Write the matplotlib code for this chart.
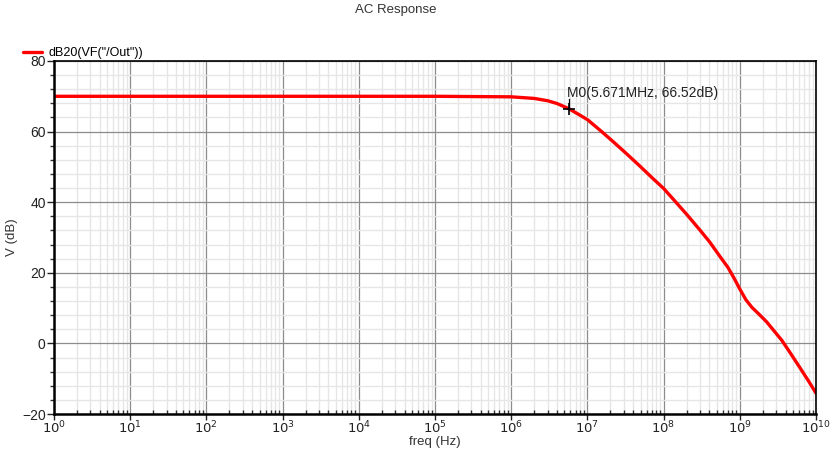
import numpy as np
import matplotlib
matplotlib.use("Agg")
from matplotlib import pyplot as plt
from matplotlib.ticker import MultipleLocator, NullFormatter

plt.rcParams['font.family'] = ['Liberation Sans', 'DejaVu Sans']

# AC sweep of dB20(VF("/Out")), values read at the plotted points
freq_hz = [1, 1e5, 1e6, 2e6, 3e6, 4e6, 5.671e6, 7.5e6, 1e7, 1.5e7, 2.19e7,
           3.2e7, 4.9e7, 7e7, 1e8, 1.41e8, 2e8, 3e8, 4e8, 5.5e8, 7e8,
           8.5e8, 1e9, 1.2e9, 1.43e9, 1.8e9, 2.25e9, 2.8e9, 3.55e9, 4.5e9,
           6.2e9, 8e9, 1e10]
gain_db = [70.0, 70.0, 69.85, 69.4, 68.75, 67.95, 66.52, 65.0, 63.4, 60.2, 57.1,
           53.9, 50.2, 47.0, 43.9, 40.3, 36.6, 32.1, 28.8, 24.6, 21.5,
           18.3, 15.4, 12.4, 10.3, 8.2, 6.1, 3.6, 0.9, -2.4,
           -7.0, -10.7, -14.1]

decades = list(range(0, 11))

marker_f = 5.671e6
marker_db = 66.52
marker_label = "M0(5.671MHz, 66.52dB)"
trace_name = 'dB20(VF("/Out"))'

fig = plt.figure(figsize=(8.36, 4.5), dpi=100)
ax = fig.add_axes([54 / 836, 1 - 414 / 450, 762 / 836, 353 / 450])

ax.semilogx(freq_hz, gain_db, color='#ff0000', lw=2.4, label=trace_name,
            solid_joinstyle='round', solid_capstyle='round', zorder=4)

ax.set_xlim(1, 1e10)
ax.set_ylim(-20, 80)

major_x = [10.0 ** k for k in decades]
minor_x = [m * 10.0 ** k for k in decades[:-1] for m in range(2, 10)]
ax.set_xticks(major_x)
ax.set_xticklabels([r'$10^{%d}$' % k for k in decades])
ax.set_xticks(minor_x, minor=True)
ax.xaxis.set_minor_formatter(NullFormatter())
ax.yaxis.set_major_locator(MultipleLocator(20))
ax.yaxis.set_minor_locator(MultipleLocator(4))

ax.grid(which='major', color='#8c8c8c', lw=0.9, zorder=1)
ax.grid(which='minor', color='#e6e6e6', lw=1.0, zorder=0)

ax.tick_params(axis='x', which='major', direction='out', length=4, width=1,
               labelsize=9.5, colors='#222222', pad=0)
ax.tick_params(axis='x', which='minor', direction='in', length=3, width=1,
               colors='#333333')
ax.tick_params(axis='y', which='major', direction='out', length=5, width=1,
               labelsize=10, colors='#222222', pad=1)
ax.tick_params(axis='y', which='minor', direction='out', length=3, width=1,
               colors='#333333')

for side in ('left', 'bottom'):
    ax.spines[side].set_linewidth(1.8)
for side in ('top', 'right'):
    ax.spines[side].set_linewidth(1.2)
for sp in ax.spines.values():
    sp.set_color('black')
    sp.set_zorder(5)

ax.set_ylabel('V (dB)', fontsize=9.5, color='#333333', labelpad=3)
fig.text(435 / 836, 1 - 442 / 450, 'freq (Hz)', ha='center', va='center',
         fontsize=9.5, color='#333333')

# marker M0: cross, short stem and readout text
ax.plot([marker_f], [marker_db], marker='+', ms=8, mew=1.2, color='black', zorder=6)
ax.plot([marker_f, marker_f], [marker_db, marker_db + 2.6], color='black', lw=0.9, zorder=6)
ax.annotate(marker_label, xy=(marker_f, marker_db), xytext=(-1.5, 6),
            textcoords='offset points', fontsize=10, color='#222222',
            ha='left', va='bottom', zorder=6)

ax.legend(loc='lower left', bbox_to_anchor=(-0.043, 1.0), frameon=False,
          handlelength=1.5, handletextpad=0.5, fontsize=9, borderaxespad=0.05,
          borderpad=0.1)

fig.text(396 / 836, 1 - 10 / 450, 'AC Response', ha='center', va='center',
         fontsize=9.5, color='#333333')

fig.savefig('out.png', dpi=100)
